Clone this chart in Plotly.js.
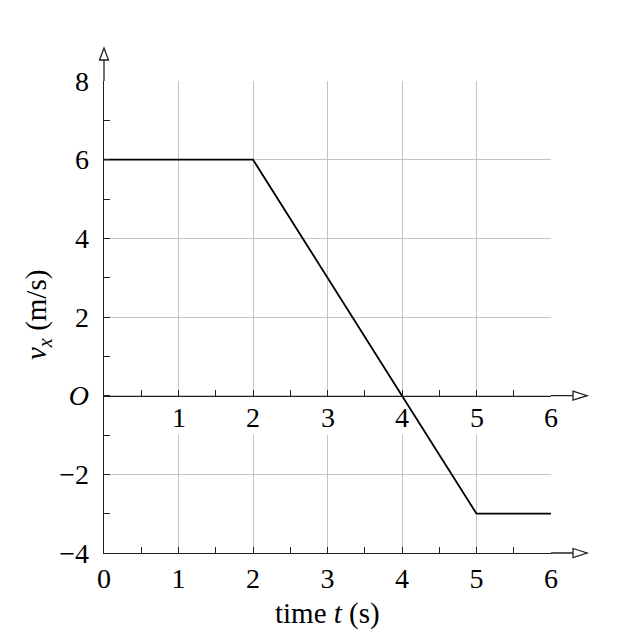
<!DOCTYPE html>
<html>
<head>
<meta charset="utf-8">
<script src="https://cdn.plot.ly/plotly-3.0.1.min.js"></script>
<style>html,body{margin:0;padding:0;background:#fff;}#chart{width:640px;height:640px;}</style>
</head>
<body>
<div id="chart"></div>
<script>
// Data
const timeValues = [0, 2, 4, 5, 6];
const velocityValues = [6, 6, 0, -3, -3];
const xRange = [0, 6];
const yRange = [-4, 8];
const xTickVals = [0, 1, 2, 3, 4, 5, 6];
const xTickText = ['0', '1', '2', '3', '4', '5', '6'];
const yTickVals = [-4, -2, 0, 2, 4, 6, 8];
const yTickText = ['\u22124', '\u22122', '<i>O</i>', '2', '4', '6', '8'];
const midLabelVals = [1, 2, 3, 4, 5, 6];
const midLabelText = ['1', '2', '3', '4', '5', '6'];

const FONT = 'Liberation Serif, Times New Roman, serif';
const FS = 28;
const AX = '#222';
const GRID = '#c4c4c4';

const zeroFrac = (0 - yRange[0]) / (yRange[1] - yRange[0]);

const traces = [
  {x: timeValues, y: velocityValues, mode: 'lines', line: {color: '#000', width: 1.8},
   hoverinfo: 'none', showlegend: false},
  {x: [xRange[0]], y: [0], xaxis: 'x2', yaxis: 'y', mode: 'markers',
   marker: {opacity: 0}, hoverinfo: 'none', showlegend: false}
];

const shapes = [];
midLabelVals.forEach(v => {
  shapes.push({type: 'rect', layer: 'between', xref: 'x', yref: 'y',
    xsizemode: 'pixel', xanchor: v, x0: -8, x1: 8,
    ysizemode: 'pixel', yanchor: 0, y0: -1, y1: -39,
    fillcolor: '#fff', line: {width: 0}});
});
const arrowLine = {color: AX, width: 1.3};
shapes.push({type: 'line', xref: 'x domain', yref: 'y domain', xsizemode: 'pixel', xanchor: 1,
  x0: 0, x1: 36, y0: zeroFrac, y1: zeroFrac, line: arrowLine});
shapes.push({type: 'path', xref: 'x domain', yref: 'y domain', xsizemode: 'pixel', xanchor: 1,
  ysizemode: 'pixel', yanchor: zeroFrac, path: 'M 22 4.5 L 36 0 L 22 -4.5 Z',
  fillcolor: '#fff', line: arrowLine});
shapes.push({type: 'line', xref: 'x domain', yref: 'y domain', xsizemode: 'pixel', xanchor: 1,
  x0: 0, x1: 36, y0: 0, y1: 0, line: arrowLine});
shapes.push({type: 'path', xref: 'x domain', yref: 'y domain', xsizemode: 'pixel', xanchor: 1,
  ysizemode: 'pixel', yanchor: 0, path: 'M 22 4.5 L 36 0 L 22 -4.5 Z',
  fillcolor: '#fff', line: arrowLine});
shapes.push({type: 'line', xref: 'x domain', yref: 'y domain', ysizemode: 'pixel', yanchor: 1,
  x0: 0, x1: 0, y0: 0, y1: 33, line: arrowLine});
shapes.push({type: 'path', xref: 'x domain', yref: 'y domain', xsizemode: 'pixel', xanchor: 0,
  ysizemode: 'pixel', yanchor: 1, path: 'M -4.5 21 L 0 33 L 4.5 21 Z',
  fillcolor: '#fff', line: arrowLine});

const annotations = midLabelVals.map((v, i) => ({
  xref: 'x', yref: 'y', x: v, y: 0, yshift: -22, xanchor: 'center', yanchor: 'middle',
  text: midLabelText[i], showarrow: false, font: {family: FONT, size: FS, color: '#000'}
}));
annotations.push({xref: 'paper', yref: 'paper', x: 0.5, y: 0, yshift: -60,
  xanchor: 'center', yanchor: 'middle',
  text: 'time <i>t</i> (s)', showarrow: false, font: {family: FONT, size: 29, color: '#000'}});
annotations.push({xref: 'paper', yref: 'paper', x: 0, xshift: -66, y: 0.5, yshift: 2,
  xanchor: 'center', yanchor: 'middle',
  textangle: -90, text: '<i>v<sub>x</sub></i> (m/s)', showarrow: false,
  font: {family: FONT, size: 29, color: '#000'}});

const layout = {
  width: 640, height: 640,
  margin: {l: 104, r: 89, t: 81, b: 87},
  paper_bgcolor: '#fff', plot_bgcolor: '#fff',
  font: {family: FONT, size: FS, color: '#000'},
  showlegend: false,
  xaxis: {range: xRange, tickvals: xTickVals, ticktext: xTickText,
    showgrid: true, gridcolor: GRID, gridwidth: 1, zeroline: false,
    showline: true, linecolor: AX, linewidth: 1.3,
    ticks: 'inside', ticklen: 6, tickcolor: AX, tickwidth: 1,
    minor: {dtick: 0.5, tick0: 0, ticks: 'inside', ticklen: 6, tickcolor: AX, showgrid: false},
    ticklabelstandoff: 0, fixedrange: true},
  xaxis2: {range: xRange, overlaying: 'x', anchor: 'free', position: zeroFrac,
    showgrid: false, zeroline: false, showticklabels: false,
    showline: true, linecolor: AX, linewidth: 1.3,
    tickvals: xTickVals, ticks: 'inside', ticklen: 6, tickcolor: AX, tickwidth: 1,
    minor: {dtick: 0.5, tick0: 0, ticks: 'inside', ticklen: 6, tickcolor: AX, showgrid: false},
    fixedrange: true},
  yaxis: {range: yRange, tickvals: yTickVals, ticktext: yTickText,
    showgrid: true, gridcolor: GRID, gridwidth: 1, zeroline: false,
    showline: true, linecolor: AX, linewidth: 1.3,
    ticks: 'inside', ticklen: 6, tickcolor: AX, tickwidth: 1,
    minor: {dtick: 1, tick0: 0, ticks: 'inside', ticklen: 6, tickcolor: AX, showgrid: false},
    ticklabelstandoff: 8, fixedrange: true},
  shapes: shapes,
  annotations: annotations
};

Plotly.newPlot('chart', traces, layout, {staticPlot: true, displayModeBar: false});
</script>
</body>
</html>
